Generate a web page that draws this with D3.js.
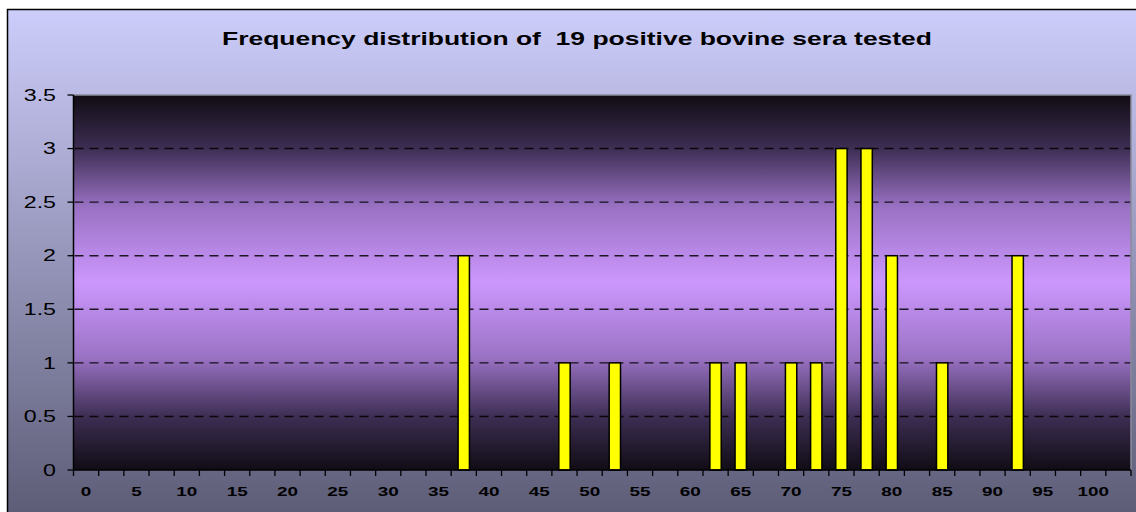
<!DOCTYPE html>
<html>
<head>
<meta charset="utf-8">
<script src="https://cdn.jsdelivr.net/npm/d3@7"></script>
<style>
  html, body { margin: 0; padding: 0; background: #ffffff; }
  svg { display: block; font-family: Arial, "Liberation Sans", sans-serif; }
</style>
</head>
<body>
<div id="chart"></div>
<script>
// data
var title = "Frequency distribution of  19 positive bovine sera tested";

var categories = ["0", "2.5", "5", "7.5", "10", "12.5", "15", "17.5", "20", "22.5",
  "25", "27.5", "30", "32.5", "35", "37.5", "40", "42.5", "45", "47.5",
  "50", "52.5", "55", "57.5", "60", "62.5", "65", "67.5", "70", "72.5",
  "75", "77.5", "80", "82.5", "85", "87.5", "90", "92.5", "95", "97.5",
  "100", "102.5"];

var counts = [0, 0, 0, 0, 0, 0, 0, 0, 0, 0,
  0, 0, 0, 0, 0, 2, 0, 0, 0, 1,
  0, 1, 0, 0, 0, 1, 1, 0, 1, 1,
  3, 3, 2, 0, 1, 0, 0, 2, 0, 0,
  0, 0];

var xTickLabels = ["0", "5", "10", "15", "20", "25", "30", "35", "40", "45", "50",
  "55", "60", "65", "70", "75", "80", "85", "90", "95", "100"];

var yTickValues = [0, 0.5, 1, 1.5, 2, 2.5, 3, 3.5];

var W = 1136, H = 512;
var plot = { left: 73.5, right: 1131, top: 95, bottom: 470 };

var svg = d3.select("#chart").append("svg")
  .attr("width", W)
  .attr("height", H);

var defs = svg.append("defs");

// outer background gradient
var bg = defs.append("linearGradient")
  .attr("id", "bg").attr("x1", 0).attr("y1", 0).attr("x2", 0).attr("y2", 1);
bg.append("stop").attr("offset", "0%").attr("stop-color", "#cdcdfb");
bg.append("stop").attr("offset", "100%").attr("stop-color", "#5b5b75");

// plot area gradient (dark - light purple - dark)
var pg = defs.append("linearGradient")
  .attr("id", "pg").attr("x1", 0).attr("y1", 0).attr("x2", 0).attr("y2", 1);
[["0%", "#100c14"], ["14%", "#3c2d52"], ["30%", "#9a72c4"], ["50%", "#cc97fd"],
 ["70%", "#9a72c4"], ["86%", "#3c2d52"], ["100%", "#100c14"]].forEach(function (s) {
  pg.append("stop").attr("offset", s[0]).attr("stop-color", s[1]);
});

svg.append("rect")
  .attr("x", 7.5).attr("y", 9.5)
  .attr("width", W).attr("height", H)
  .attr("fill", "url(#bg)")
  .attr("stroke", "#000")
  .attr("stroke-width", 1.5);

svg.append("rect")
  .attr("x", plot.left).attr("y", plot.top)
  .attr("width", plot.right - plot.left)
  .attr("height", plot.bottom - plot.top)
  .attr("fill", "url(#pg)");

// title (keep the double space)
svg.append("text")
  .attr("x", 222)
  .attr("y", 45)
  .attr("textLength", 710)
  .attr("lengthAdjust", "spacingAndGlyphs")
  .attr("xml:space", "preserve")
  .style("white-space", "pre")
  .style("font-size", "18.5px")
  .style("font-weight", "bold")
  .attr("fill", "#000")
  .text(title);

// scales
var x = d3.scaleBand()
  .domain(categories)
  .range([plot.left, plot.right])
  .paddingInner(0.55)
  .paddingOuter(0.275);

var y = d3.scaleLinear()
  .domain([0, 3.5])
  .range([plot.bottom, plot.top]);

// gridlines
svg.append("g")
  .selectAll("line")
  .data(yTickValues.filter(function (d) { return d > 0 && d < 3.5; }))
  .enter()
  .append("line")
  .attr("x1", plot.left + 1)
  .attr("x2", plot.right)
  .attr("y1", function (d) { return y(d); })
  .attr("y2", function (d) { return y(d); })
  .attr("stroke", "#000")
  .attr("stroke-opacity", 0.85)
  .attr("stroke-width", 1.4)
  .attr("stroke-dasharray", "9,6");

// plot border (top / right)
svg.append("path")
  .attr("d", "M" + plot.left + "," + plot.top + "H" + plot.right + "V" + plot.bottom)
  .attr("fill", "none")
  .attr("stroke", "#8a8a9a")
  .attr("stroke-width", 1.5);

// bars
var half = x.step() * x.paddingInner() / 2;
svg.append("g")
  .selectAll("rect")
  .data(categories.map(function (c, i) { return { cat: c, value: counts[i] }; })
    .filter(function (d) { return d.value > 0; }))
  .enter()
  .append("rect")
  .attr("x", function (d) { return x(d.cat); })
  .attr("y", function (d) { return y(d.value); })
  .attr("width", x.bandwidth())
  .attr("height", function (d) { return y(0) - y(d.value); })
  .attr("fill", "#ffff00")
  .attr("stroke", "#000")
  .attr("stroke-width", 1.5);

// y axis
var yAxis = svg.append("g");
yAxis.append("line")
  .attr("x1", plot.left).attr("x2", plot.left)
  .attr("y1", plot.top).attr("y2", plot.bottom)
  .attr("stroke", "#000").attr("stroke-width", 1.5);

yAxis.selectAll("line.tick")
  .data(yTickValues)
  .enter()
  .append("line")
  .attr("class", "tick")
  .attr("x1", plot.left - 6).attr("x2", plot.left)
  .attr("y1", function (d) { return y(d); })
  .attr("y2", function (d) { return y(d); })
  .attr("stroke", "#000").attr("stroke-width", 1.3);

yAxis.selectAll("text")
  .data(yTickValues)
  .enter()
  .append("text")
  .attr("transform", function (d) { return "translate(56," + y(d) + ") scale(1.45,1)"; })
  .attr("dy", "0.36em")
  .attr("text-anchor", "end")
  .style("font-size", "16px")
  .attr("fill", "#000")
  .text(function (d) { return String(d); });

// x axis
var xAxis = svg.append("g");
xAxis.append("line")
  .attr("x1", plot.left).attr("x2", plot.right)
  .attr("y1", plot.bottom).attr("y2", plot.bottom)
  .attr("stroke", "#000").attr("stroke-width", 1.5);

// tick marks on category boundaries
xAxis.selectAll("line.tick")
  .data(categories)
  .enter()
  .append("line")
  .attr("class", "tick")
  .attr("x1", function (d) { return x(d) - half; })
  .attr("x2", function (d) { return x(d) - half; })
  .attr("y1", plot.bottom).attr("y2", plot.bottom + 6)
  .attr("stroke", "#000").attr("stroke-width", 1.3);

xAxis.append("line")
  .attr("x1", plot.right).attr("x2", plot.right)
  .attr("y1", plot.bottom).attr("y2", plot.bottom + 6)
  .attr("stroke", "#000").attr("stroke-width", 1.3);

xAxis.selectAll("text")
  .data(xTickLabels)
  .enter()
  .append("text")
  .attr("transform", function (d) {
    return "translate(" + (x(d) + x.bandwidth() / 2) + ",496) scale(1.4,1)";
  })
  .attr("text-anchor", "middle")
  .style("font-size", "13.5px")
  .style("font-weight", "bold")
  .attr("fill", "#000")
  .text(function (d) { return d; });
</script>
</body>
</html>
